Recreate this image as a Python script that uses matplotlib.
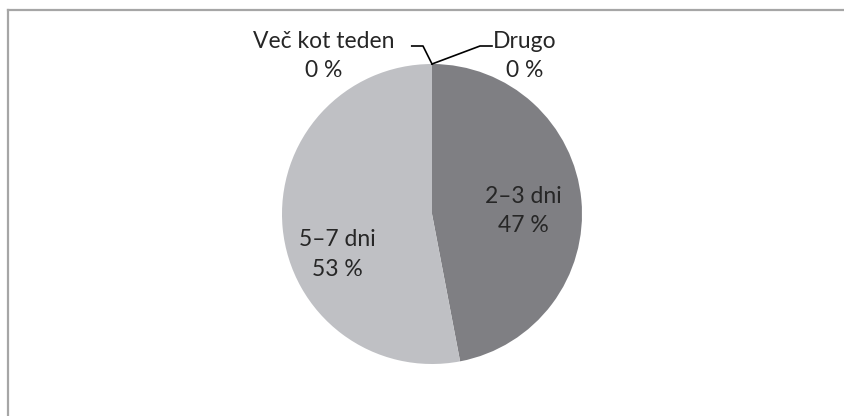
import numpy as np
import matplotlib
matplotlib.use("Agg")
import matplotlib.pyplot as plt
from matplotlib.lines import Line2D

# podatki
labels = ["2–3 dni", "5–7 dni", "Več kot teden", "Drugo"]
values = [47, 53, 0, 0]
colors = ["#7f7f83", "#bfc0c4", "#bfc0c4", "#7f7f83"]

plt.rcParams['font.family'] = ['Lato', 'DejaVu Sans']
txt_color = "#262626"
fs = 16.5
ls = 1.5

W, H = 845, 416
fig = plt.figure(figsize=(W / 100, H / 100), dpi=100)
fig.patch.set_facecolor("white")

# okvir (samo levi in zgornji rob sta vidna)
fig.add_artist(Line2D([8 / W, 8 / W], [0, 1 - 10 / H], color="#a6a6a6", lw=1.6))
fig.add_artist(Line2D([8 / W, 1], [1 - 10 / H, 1 - 10 / H], color="#a6a6a6", lw=1.6))

cx, cy, r = 432, 214, 150
ax = fig.add_axes([(cx - r) / W, (H - cy - r) / H, 2 * r / W, 2 * r / H])
ax.axis("off")

wedges, _ = ax.pie(values, colors=colors, startangle=90, counterclock=False,
                   radius=1, wedgeprops=dict(linewidth=0))
ax.set_xlim(-1, 1)
ax.set_ylim(-1, 1)

# oznake v rezinah
ax.text(0.61, 0.02, f"{labels[0]}\n{values[0]} %", ha="center", va="center",
        fontsize=fs, color=txt_color, linespacing=ls)
ax.text(-0.63, -0.27, f"{labels[1]}\n{values[1]} %", ha="center", va="center",
        fontsize=fs, color=txt_color, linespacing=ls)

# oznake za 0 % z vodilnimi črtami
ang = np.deg2rad(wedges[2].theta1)
px, py = np.cos(ang), np.sin(ang)
ax.plot([px, -0.06, -0.135], [py, 1.12, 1.12], color="black", lw=1.2, clip_on=False)
ax.text(-0.72, 1.055, f"{labels[2]}\n{values[2]} %", ha="center", va="center",
        fontsize=fs, color=txt_color, linespacing=ls)
ang = np.deg2rad(wedges[3].theta1)
px, py = np.cos(ang), np.sin(ang)
ax.plot([px, 0.32, 0.40], [py, 1.12, 1.12], color="black", lw=1.2, clip_on=False)
ax.text(0.62, 1.055, f"{labels[3]}\n{values[3]} %", ha="center", va="center",
        fontsize=fs, color=txt_color, linespacing=ls)

fig.savefig("out.png", dpi=100)
